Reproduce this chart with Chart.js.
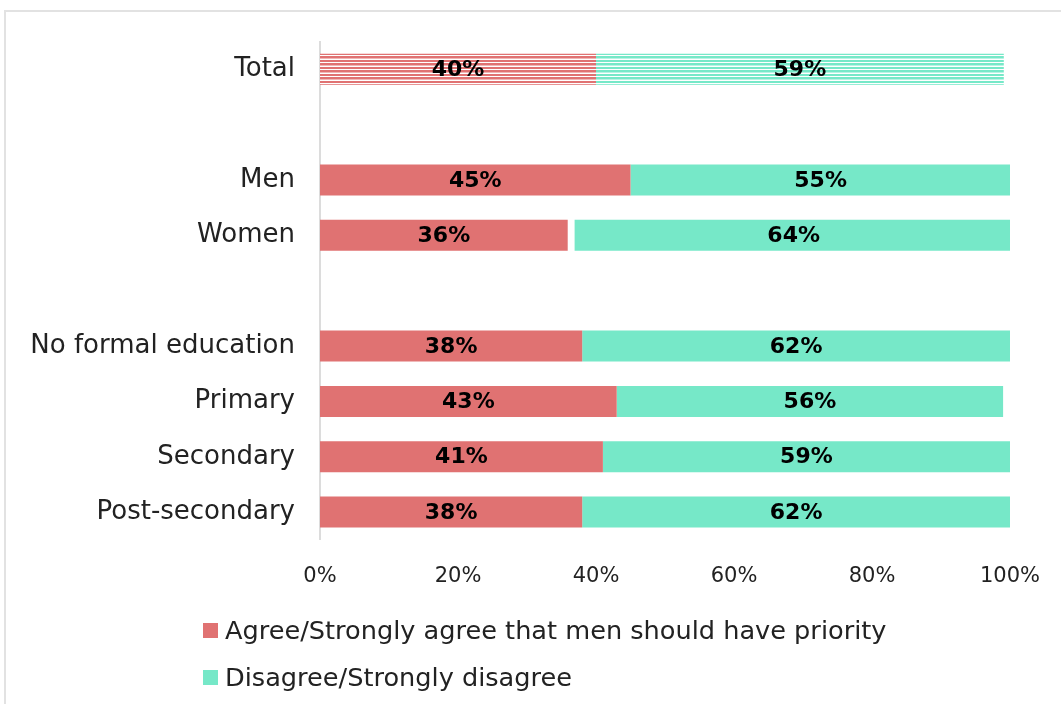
<!DOCTYPE html>
<html>
<head>
<meta charset="utf-8">
<script src="https://cdn.jsdelivr.net/npm/chart.js@4.4.1/dist/chart.umd.min.js"></script>
<style>
  html, body { margin: 0; padding: 0; background: #fff; }
  body { width: 1061px; height: 704px; position: relative; overflow: hidden; font-family: "DejaVu Sans", sans-serif; }
  #frame { position: absolute; left: 4px; top: 10px; width: 1100px; height: 800px; border: 2px solid #e2e2e2; box-sizing: border-box; }
  #wrap { position: absolute; left: 0; top: 0; width: 1061px; height: 613px; }
  #legend { position: absolute; left: 203px; top: 611px; }
  .li { position: relative; height: 47px; line-height: 38px; font-size: 25.6px; color: #222; padding-left: 22px; white-space: nowrap; }
  .sw { position: absolute; left: 0; top: 12px; width: 15px; height: 15px; }
</style>
</head>
<body>
<div id="frame"></div>
<div id="wrap"><canvas id="c"></canvas></div>
<div id="legend"></div>
<script>
const categories = ['Total', '', 'Men', 'Women', '', 'No formal education', 'Primary', 'Secondary', 'Post-secondary'];
const agreeValues = [40, null, 45, 35.9, null, 38, 43, 41, 38];
const gapValues = [0, null, 0, 1, null, 0, 0, 0, 0];
const disagreeValues = [59.1, null, 55.1, 63.5, null, 62, 56, 59, 62];
const xTicks = [0, 20, 40, 60, 80, 100];
const seriesNames = ['Agree/Strongly agree that men should have priority', 'Disagree/Strongly disagree'];

const RED = '#e07272';
const TEAL = '#76e8c8';

function stripes(color, pale) {
  const p = document.createElement('canvas');
  p.width = 4; p.height = 7;
  const g = p.getContext('2d');
  const rows = [color, color, pale, '#ffffff', color, color, '#ffffff'];
  rows.forEach((c, r) => { g.fillStyle = c; g.fillRect(0, r, 4, 1); });
  return g.createPattern(p, 'repeat');
}

const redFill = agreeValues.map((v, i) => i === 0 ? stripes(RED, '#f0b5b5') : RED);
const tealFill = disagreeValues.map((v, i) => i === 0 ? stripes(TEAL, '#b8f3e3') : TEAL);

const labelPlugin = {
  id: 'barLabels',
  afterDatasetsDraw(chart) {
    const ctx = chart.ctx;
    ctx.save();
    ctx.font = 'bold 22px "DejaVu Sans"';
    ctx.fillStyle = '#000';
    ctx.textAlign = 'center';
    ctx.textBaseline = 'middle';
    [0, 2].forEach(di => {
      const meta = chart.getDatasetMeta(di);
      meta.data.forEach((el, i) => {
        const v = chart.data.datasets[di].data[i];
        if (v == null || v <= 0) return;
        const p = el.getProps(['x', 'y', 'base'], true);
        ctx.fillText(Math.round(v) + '%', (p.x + p.base) / 2, p.y + 1);
      });
    });
    ctx.restore();
  }
};

new Chart(document.getElementById('c'), {
  type: 'bar',
  data: {
    labels: categories,
    datasets: [
      { label: seriesNames[0], data: agreeValues, backgroundColor: redFill, borderWidth: 0, stack: 's' },
      { label: 'gap', data: gapValues, backgroundColor: 'rgba(0,0,0,0)', borderWidth: 0, stack: 's' },
      { label: seriesNames[1], data: disagreeValues, backgroundColor: tealFill, borderWidth: 0, stack: 's' }
    ]
  },
  options: {
    indexAxis: 'y',
    responsive: true,
    maintainAspectRatio: false,
    animation: false,
    layout: { padding: { top: 41.5, bottom: 0, left: 0, right: 51 } },
    datasets: { bar: { categoryPercentage: 1, barPercentage: 0.56 } },
    plugins: { legend: { display: false }, tooltip: { enabled: false } },
    scales: {
      x: {
        stacked: true,
        min: 0, max: 100,
        afterBuildTicks(scale) { scale.ticks = xTicks.map(v => ({ value: v })); },
        afterFit(scale) { scale.paddingRight = 0; scale.paddingLeft = 0; },
        grid: { display: false, drawTicks: false },
        border: { display: false },
        ticks: { padding: 24, color: '#222', font: { family: 'DejaVu Sans', size: 21 }, callback: v => v + '%' }
      },
      y: {
        stacked: true,
        afterFit(scale) { scale.width = 320; },
        grid: { display: false, drawTicks: false },
        border: { display: true, color: '#dcdcdc', width: 2 },
        ticks: { padding: 25, color: '#222', font: { family: 'DejaVu Sans', size: 26 } }
      }
    }
  },
  plugins: [labelPlugin]
});

const lg = document.getElementById('legend');
[RED, TEAL].forEach((c, i) => {
  const d = document.createElement('div');
  d.className = 'li';
  const s = document.createElement('span');
  s.className = 'sw';
  s.style.background = c;
  d.appendChild(s);
  d.appendChild(document.createTextNode(seriesNames[i]));
  lg.appendChild(d);
});
</script>
</body>
</html>
